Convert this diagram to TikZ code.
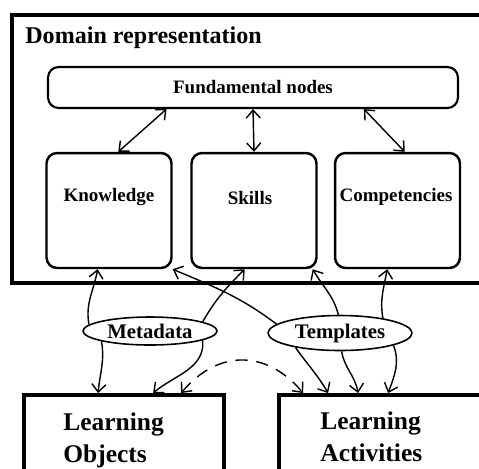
\documentclass[tikz,border=0pt]{standalone}
\usepackage{fontspec}
\setmainfont{Liberation Serif}
\usetikzlibrary{arrows.meta,calc,shapes.geometric}

\begin{document}
\begin{tikzpicture}[
    x=0.02cm, y=-0.02cm,
    >={Straight Barb[length=4.5pt,width=8pt]},
    link/.style={line width=0.8pt},
    rbox/.style={draw,line width=1.4pt,rounded corners=6pt,minimum width=2.5cm,minimum height=2.3cm,inner sep=0pt},
    sqbox/.style={draw,line width=2.2pt,inner sep=0pt,minimum width=4cm,minimum height=1.9cm},
    oval/.style={draw,ellipse,line width=0.9pt,inner sep=0pt,font=\bfseries\fontsize{11.8}{14}\selectfont},
    lbl/.style={font=\bfseries\fontsize{10.8}{13}\selectfont},
    big/.style={font=\bfseries\fontsize{14.5}{18.7}\selectfont,align=left,anchor=north west,inner sep=0pt}
]
    \useasboundingbox (0,0) rectangle (479,468);
    \clip (0,0) rectangle (479,468);

    % domain representation
    \draw[line width=2.2pt] (12,15) rectangle (500,283);
    \node[anchor=base west,inner sep=0pt,font=\bfseries\fontsize{13.7}{16}\selectfont] (title) at (25,43) {Domain representation};
    \node[rbox,minimum width=8.2cm,minimum height=0.82cm,line width=1.2pt,lbl] (fund) at (253,87.5) {Fundamental nodes};
    \node[rbox] (know) at (109,210.5) {};
    \node[rbox] (skill) at (254,210.5) {};
    \node[rbox] (comp) at (397.5,210.5) {};
    \node[lbl] (knowtxt) at (109,197) {Knowledge};
    \node[lbl] (skilltxt) at (250,198) {Skills};
    \node[lbl] (comptxt) at (396,197) {Competencies};

    \draw[link,<->] (fund.194) -- (know.81);
    \draw[link,<->] (fund.south) -- (skill.north);
    \draw[link,<->] (fund.349) -- (comp.83);

    % resources
    \node[sqbox] (lo) at (124,442.5) {};
    \node[sqbox,minimum width=4.42cm] (la) at (389.5,442.5) {};
    \node[big] (lotxt) at (63,412) {Learning\\Objects};
    \node[big] (latxt) at (320,411) {Learning\\Activities};

    \node[oval,minimum width=2.68cm,minimum height=0.56cm] (meta) at (150,331) {Metadata};
    \node[oval,minimum width=2.88cm,minimum height=0.7cm] (tmpl) at (340,333) {Templates};

    \draw[link,->] (meta.174) to[out=100,in=-100] (know.259);
    \draw[link,->] (meta.192) to[out=-80,in=85] ($(lo.north west)+(76,0)$);
    \draw[link,->] (meta.10) to[out=60,in=-135] (skill.261);
    \draw[link,->] (meta.350) to[out=-85,in=40] ($(lo.north west)+(131,0)$);
    \draw[link,->] (tmpl.172) to[out=143,in=-23] (know.south east);
    \draw[link,->] (tmpl.198) to[out=-55,in=120] ($(la.north west)+(51,0)$);
    \draw[link,->] (tmpl.95) to[out=105,in=-60] (skill.315);
    \draw[link,->] (tmpl.275) to[out=-80,in=100] ($(la.north west)+(81,0)$);
    \draw[link,->] (tmpl.19) to[out=100,in=-100] (comp.260);
    \draw[link,->] (tmpl.347) to[out=-70,in=70] ($(la.north west)+(111,0)$);
    \draw[link,<->,dashed,dash pattern=on 7pt off 5pt] ($(lo.north west)+(159,0)$) to[out=50,in=130,looseness=1.2] ($(la.north west)+(26,0)$);
\end{tikzpicture}
\end{document}
